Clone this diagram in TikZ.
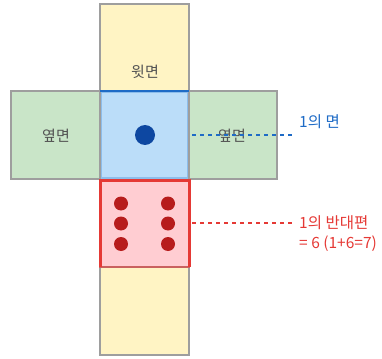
\documentclass[tikz,border=0pt]{standalone}
\usepackage{fontspec}
\setmainfont{Noto Sans CJK KR}
\begin{document}
\begin{tikzpicture}[x=1pt,y=-1pt,
  lbl/.style={text=black!68, font=\fontsize{15}{18}\selectfont},
  dot/.style={circle, inner sep=0pt, minimum size=#1},
  note/.style={font=\fontsize{15.5}{18}\selectfont, anchor=west, inner sep=0pt}]
\definecolor{cyel}{HTML}{FFF4C4}
\definecolor{cgrn}{HTML}{C9E5C8}
\definecolor{cblu}{HTML}{BBDDF9}
\definecolor{cred}{HTML}{FFCDD2}
\definecolor{cbdot}{HTML}{0D47A1}
\definecolor{crdot}{HTML}{B71C1C}
\definecolor{cbtxt}{HTML}{1E6BC6}
\definecolor{crtxt}{HTML}{E53935}
\definecolor{cgray}{HTML}{9E9E9E}
\definecolor{cbbord}{HTML}{8DBDEB}
\useasboundingbox (0,0) rectangle (382,358);
% faces
\draw[fill=cyel, draw=cgray, line width=2.8pt] (100,4) rectangle (189,91);
\draw[fill=cgrn, draw=cgray, line width=2.8pt] (11,91) rectangle (100,179);
\draw[fill=cgrn, draw=cgray, line width=2.8pt] (189,91) rectangle (277,179);
\draw[fill=cyel, draw=cgray, line width=2.8pt] (100,267) rectangle (189,355);
\draw[fill=cred, draw=crtxt!60!cgray, line width=1.4pt] (100,180) rectangle (189,267);
\draw[crtxt, line width=3pt] (100,267) -- (100,180) -- (189,180) -- (189,267);
\draw[fill=cblu, draw=cbbord, line width=1.4pt] (101.5,92) rectangle (187.5,178);
\draw[cbtxt, line width=2.6pt] (100,91) -- (189,91);
% labels
\node[lbl] (top) at (145,72) {윗면};
\node[lbl] (left) at (56,136) {옆면};
\node[lbl] (right) at (232,136) {옆면};
% dots
\node[dot=20pt, fill=cbdot] (one) at (145,135) {};
\foreach \x/\n in {121/a,168/b}
  \foreach \y/\m in {203.5/1,223.5/2,244/3}
    \node[dot=14pt, fill=crdot] (d\n\m) at (\x,\y) {};
% notes
\coordinate (bs) at (192,135);
\coordinate (be) at (292,135);
\coordinate (rs) at (192,223);
\coordinate (re) at (292,223);
\draw[cbtxt, line width=1.8pt, dash pattern=on 4pt off 4pt] (bs) -- (be);
\draw[crtxt, line width=1.5pt, dash pattern=on 4pt off 4pt] (rs) -- (re);
\node[note, text=cbtxt] (n1) at (299,122) {1의 면};
\node[note, text=crtxt] (n2) at (299,223) {1의 반대편};
\node[note, text=crtxt] (n3) at (299,244) {= 6 (1+6=7)};
\end{tikzpicture}
\end{document}
